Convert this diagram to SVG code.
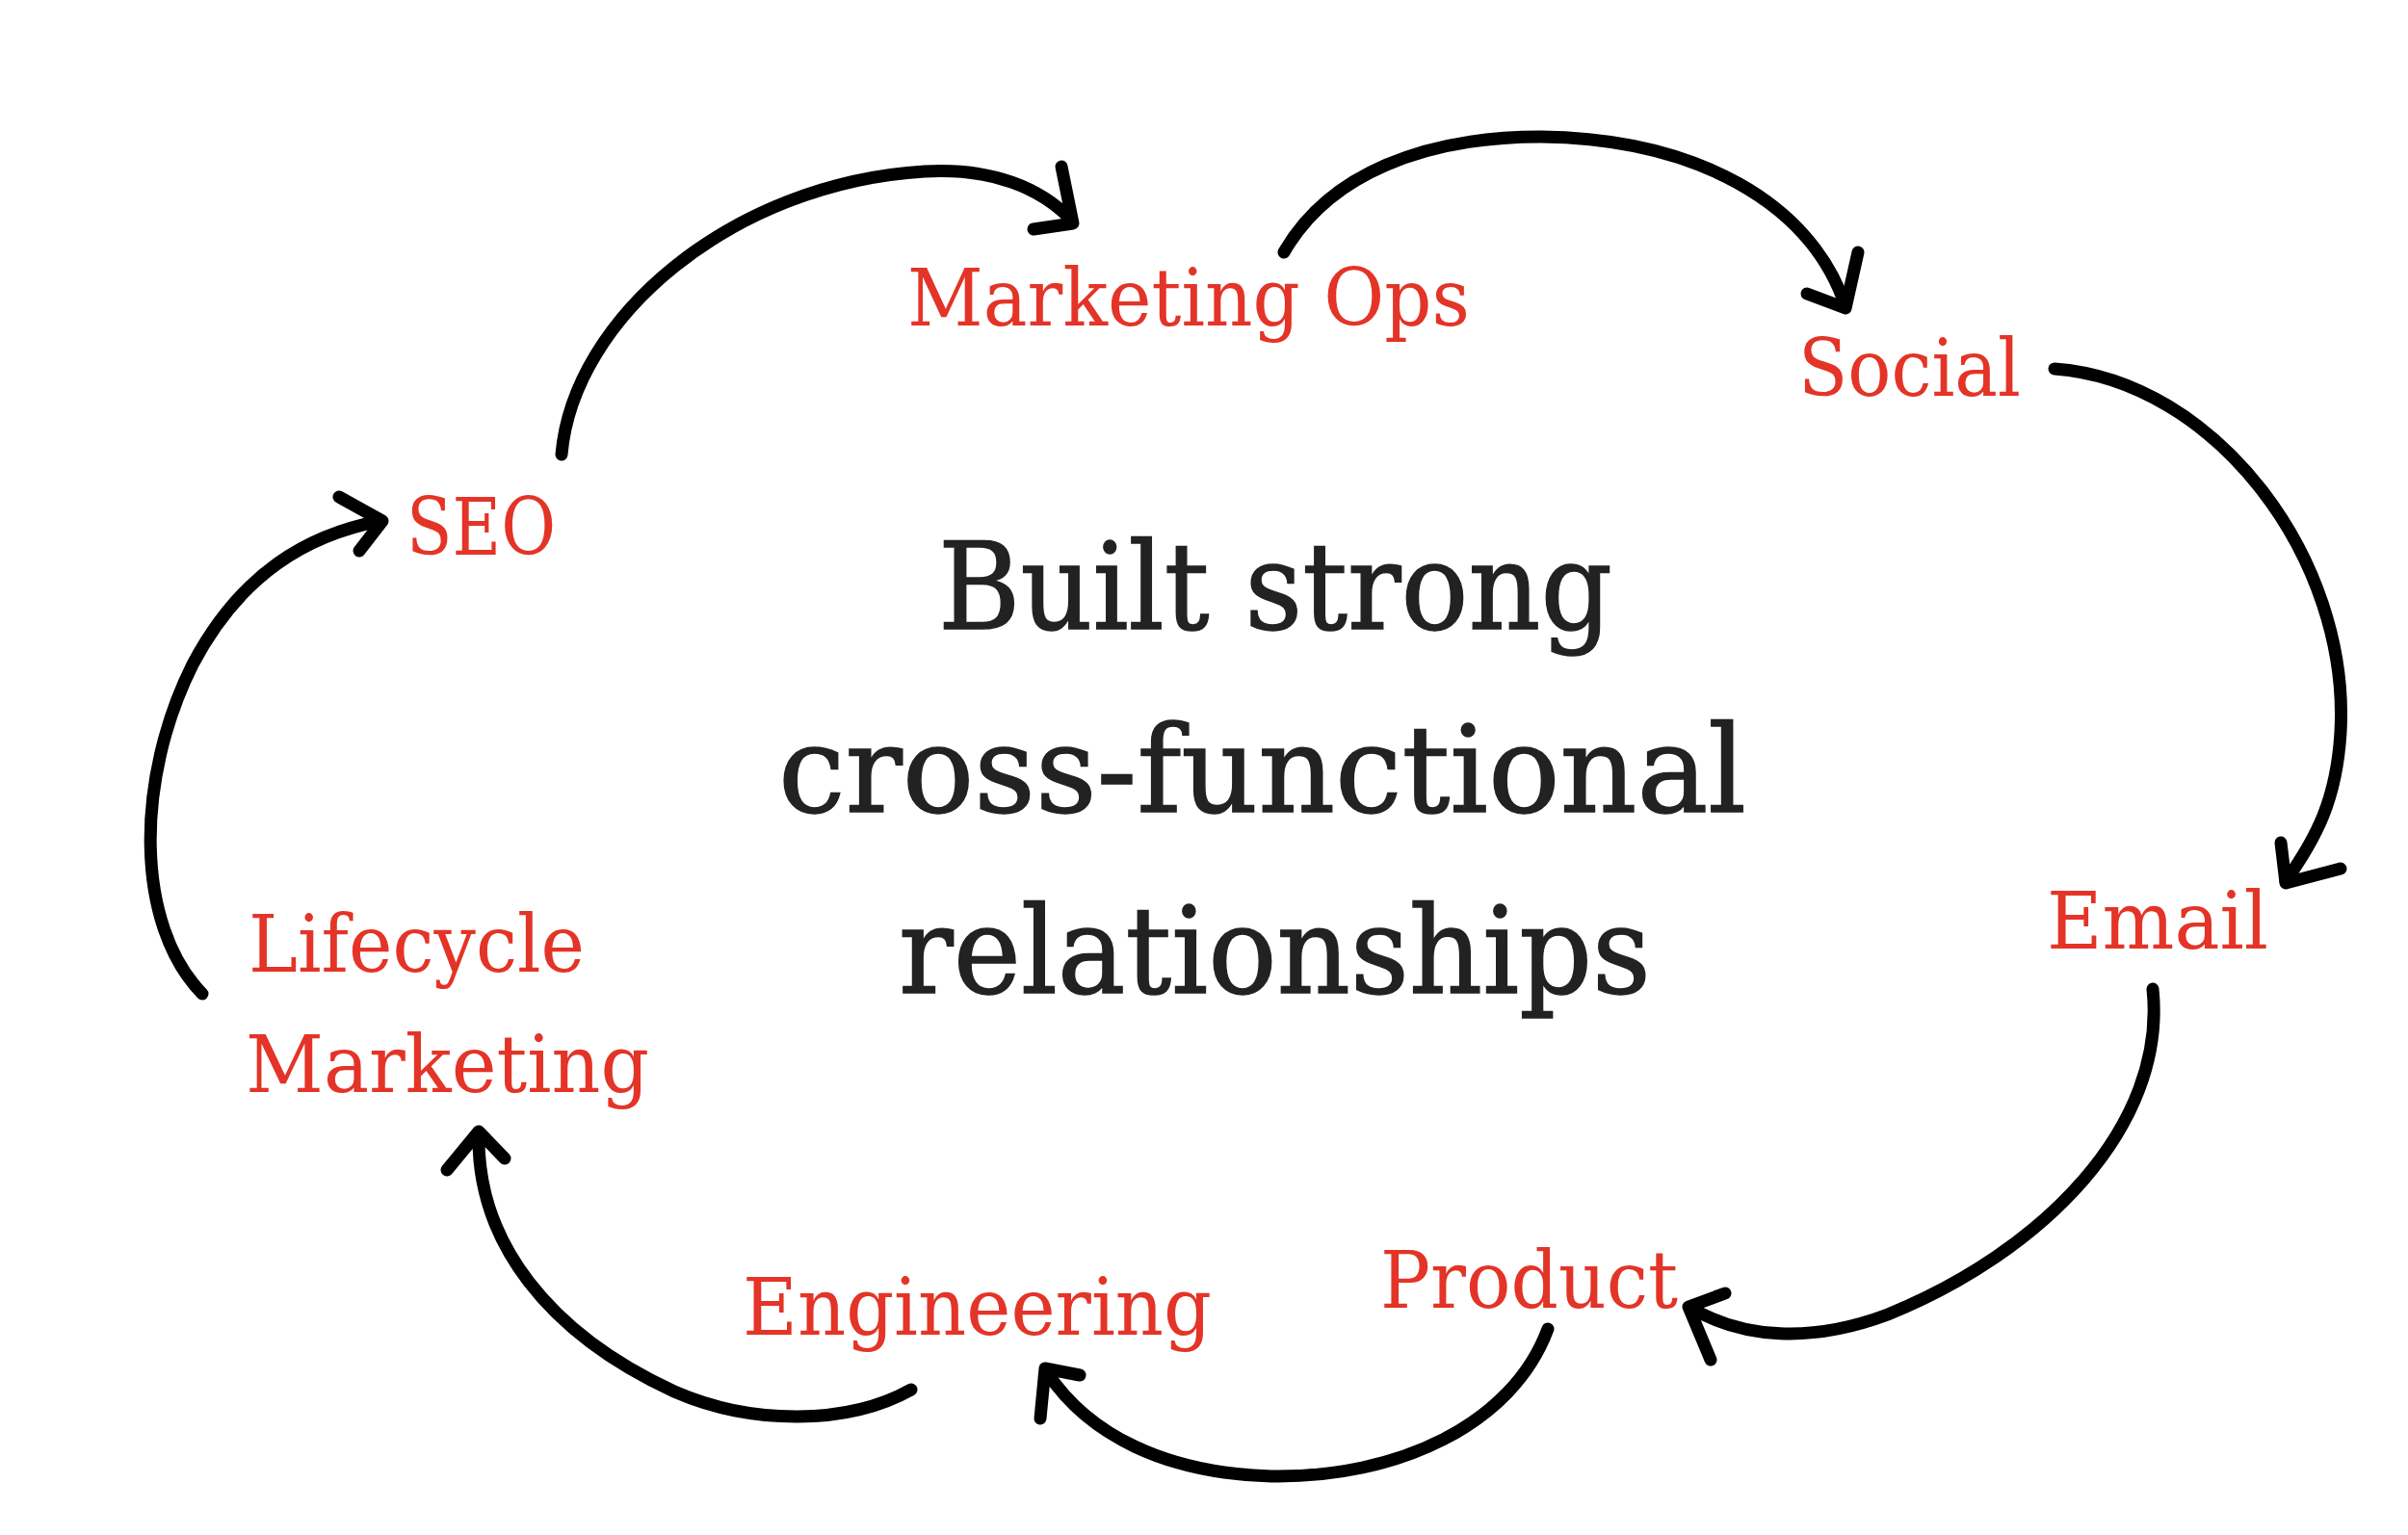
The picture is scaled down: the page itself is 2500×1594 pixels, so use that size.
<svg xmlns="http://www.w3.org/2000/svg" width="2500" height="1594" viewBox="0 0 2500 1594">
<style>
.arc{fill:none;stroke:#000;stroke-width:13;stroke-linecap:round;stroke-linejoin:round}
.lbl{font-family:"DejaVu Serif","Liberation Serif",serif;font-size:82px;fill:#E33427}
.main{font-family:"DejaVu Serif","Liberation Serif",serif;font-size:126px;fill:#222222;stroke:#222222;stroke-width:1.5}
</style>
<rect width="2500" height="1594" fill="#ffffff"/>
<g id="connectors">
<path class="arc" d="M583,472 C595,330 760,190 960,178 C1030,174 1080,195 1112,228"/>
<path class="arc" d="M1102,173 L1114,232 L1073,238"/>
<path class="arc" d="M1333,262 C1380,180 1480,142 1600,142 C1760,144 1880,210 1916,318"/>
<path class="arc" d="M1929,262 L1916,320 L1876,305"/>
<path class="arc" d="M2133,383 C2300,395 2440,580 2430,760 C2426,830 2405,870 2373,915"/>
<path class="arc" d="M2368,875 L2373,917 L2430,902"/>
<path class="arc" d="M2235,1027 C2250,1170 2120,1300 1960,1365 C1880,1395 1810,1390 1755,1358"/>
<path class="arc" d="M1791,1343 L1753,1357 L1776,1412"/>
<path class="arc" d="M1607,1380 C1570,1480 1450,1535 1320,1533 C1210,1530 1130,1490 1087,1425"/>
<path class="arc" d="M1121,1428 L1085,1421 L1080,1473"/>
<path class="arc" d="M946,1443 C880,1480 780,1480 700,1445 C570,1385 495,1290 497,1178"/>
<path class="arc" d="M464,1215 L497,1175 L524,1203"/>
<path class="arc" d="M210,1032 C140,960 140,810 200,690 C250,595 320,555 395,541"/>
<path class="arc" d="M352,516 L397,541 L373,572"/>
</g>
<g id="center">
<text class="main" x="974" y="653" textLength="700" lengthAdjust="spacingAndGlyphs">Built strong</text>
<text class="main" x="808" y="843" textLength="1005" lengthAdjust="spacingAndGlyphs">cross-functional</text>
<text class="main" x="933" y="1031" textLength="781" lengthAdjust="spacingAndGlyphs">relationships</text>
</g>
<g id="marketing-ops"><text class="lbl" x="942" y="338" textLength="584" lengthAdjust="spacingAndGlyphs">Marketing Ops</text></g>
<g id="social"><text class="lbl" x="1867" y="411" textLength="231" lengthAdjust="spacingAndGlyphs">Social</text></g>
<g id="email"><text class="lbl" x="2125" y="985" textLength="230" lengthAdjust="spacingAndGlyphs">Email</text></g>
<g id="product"><text class="lbl" x="1433" y="1358" textLength="309" lengthAdjust="spacingAndGlyphs">Product</text></g>
<g id="engineering"><text class="lbl" x="771" y="1386" textLength="487" lengthAdjust="spacingAndGlyphs">Engineering</text></g>
<g id="lifecycle-marketing">
<text class="lbl" x="258" y="1009" textLength="349" lengthAdjust="spacingAndGlyphs">Lifecycle</text>
<text class="lbl" x="255" y="1134" textLength="419" lengthAdjust="spacingAndGlyphs">Marketing</text>
</g>
<g id="seo"><text class="lbl" x="422" y="576" textLength="155" lengthAdjust="spacingAndGlyphs">SEO</text></g>
</svg>
